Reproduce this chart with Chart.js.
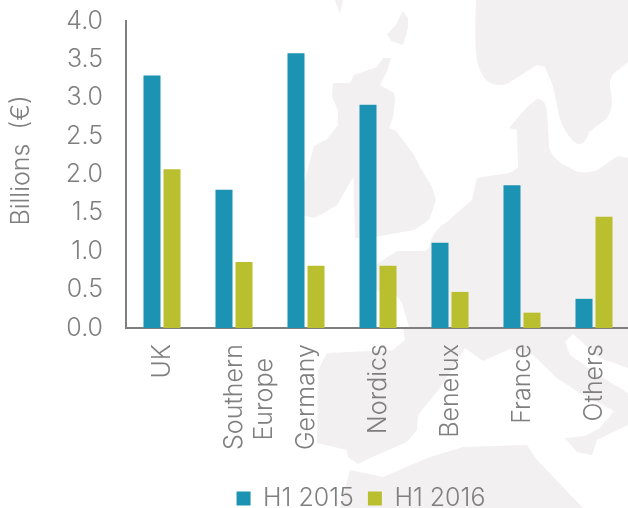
<!DOCTYPE html>
<html><head><meta charset="utf-8">
<style>
html,body{margin:0;padding:0;background:#fff;overflow:hidden;width:628px;height:508px}
#bg{position:absolute;left:0;top:0}
#c{position:absolute;left:0;top:0}
</style>
<script src="https://cdn.jsdelivr.net/npm/chart.js@4"></script>
</head><body>
<svg id="bg" width="628" height="508" viewBox="0 0 628 508" fill="#f2f0f1">
<path d="M335 0L340 14L343 0Z"/>
<path d="M403 11L408 18L408 28L403 45L391 41L387 34L395 26Z"/>
<path d="M476 0C475 30 475 55 478 65C483 80 490 85 500 85C505 85 507 84 510 82L537 65L545 67L553 86L559 115C562 128 572 143 579 144C584 144 588 137 589 132L605 120C610 115 612 108 612 103L610 85C610 78 612 74 618 70L628 62V0Z"/>
<path d="M618 0C617 14 620 24 628 32V0Z"/>
<path d="M383 58L391 58L387 71L380 85L394 93L395 100L393 117L389 128L396 131L405 143L414 155L420 167L432 187L436 200L429 220L414 230L374 237L355 238L353 165L358 162L376 163L378 167L376 174L360 165L337 205L324 213L314 218L302 215L302 190L314 146L327 139L338 125L338 110L332 97L333 83L350 83L354 75L377 67Z"/>
<path d="M375 265L397 251L424 251C430 250 430 245 431 240C436 230 440 226 447 222L457 213L472 200L477 178L502 174C510 174 515 170 518 167L517 130L509 128L527 107L537 99C544 99 546 105 547 110L549 147C552 158 560 163 570 168C578 174 590 173 597 170L618 156L628 158V327H409L402 303L396 295L375 291Z"/>
<path d="M403 327L405 340L393 350L327 353L318 370L317 443L347 450L348 457L358 464L370 458L407 442L417 430L418 415L440 388L465 348L483 361L510 349L533 355L557 378L580 393L612 410L628 420V327Z"/>
<path fill="#fff" d="M565 342L573 334L600 358L628 368V393L600 376L570 355Z"/>
<path d="M565 438L585 436L600 428L615 410L628 410V425L597 440L592 455L577 452Z"/>
<path d="M340 508L350 470L383 477L430 457L463 447L527 445L537 460L583 508Z"/>
</svg>
<canvas id="c" width="630" height="508"></canvas>
<script>
const categories = ["UK", ["Southern", "Europe\u00a0\u00a0"], "Germany", "Nordics", "Benelux", "France", "Others"];
const seriesNames = ["H1 2015", "H1 2016"];
const h12015 = [3.29, 1.80, 3.58, 2.91, 1.11, 1.86, 0.38];
const h12016 = [2.07, 0.86, 0.81, 0.81, 0.47, 0.20, 1.45];
const yTicks = [0, 0.5, 1, 1.5, 2, 2.5, 3, 3.5, 4];
const yTitle = "\u00a0\u00a0\u00a0\u00a0Billions  (\u20ac)";
const FONT = "Inter, 'Noto Sans', sans-serif";
const GREY = "#7f7f7f";

const legendShift = {
  id: "legendShift",
  afterLayout(chart) {
    chart.legend.left += 46; chart.legend.right += 46;
    chart.legend.top += 13; chart.legend.bottom += 13;
  }
};

new Chart(document.getElementById("c"), {
  type: "bar",
  data: {
    labels: categories,
    datasets: [
      { label: seriesNames[0], data: h12015, backgroundColor: "#1d93b3" },
      { label: seriesNames[1], data: h12016, backgroundColor: "#b9bf2f" }
    ]
  },
  plugins: [legendShift],
  options: {
    responsive: false,
    animation: false,
    categoryPercentage: 0.556,
    barPercentage: 0.85,
    layout: { padding: { top: 21, left: 0, right: 0, bottom: 0 } },
    plugins: {
      tooltip: { enabled: false },
      legend: {
        position: "bottom",
        labels: {
          boxWidth: 14, boxHeight: 14, padding: 14,
          color: GREY,
          font: { family: FONT, size: 25, weight: "300" }
        }
      }
    },
    scales: {
      x: {
        grid: { display: false, drawTicks: false },
        border: { color: GREY, width: 2 },
        ticks: {
          color: GREY, minRotation: 90, maxRotation: 90, autoSkip: false, padding: 16,
          font: { family: FONT, size: 25, weight: "300", lineHeight: 1.2 }
        },
        afterFit(s) { s.height = 131; s.paddingLeft = 0; s.paddingRight = 0; }
      },
      y: {
        min: 0, max: 4,
        afterBuildTicks(s) { s.ticks = yTicks.map(v => ({ value: v })); },
        grid: { display: false, drawTicks: false },
        border: { color: GREY, width: 2 },
        title: {
          display: true, text: yTitle, color: GREY,
          font: { family: FONT, size: 25, weight: "300" }, padding: { top: 6, bottom: 0 }
        },
        ticks: {
          color: GREY, padding: 23,
          font: { family: FONT, size: 25, weight: "300" },
          callback: v => Number(v).toFixed(1)
        },
        afterFit(s) { s.width = 126; s.paddingTop = 0; s.paddingBottom = 0; }
      }
    }
  }
});
</script>
</body></html>
